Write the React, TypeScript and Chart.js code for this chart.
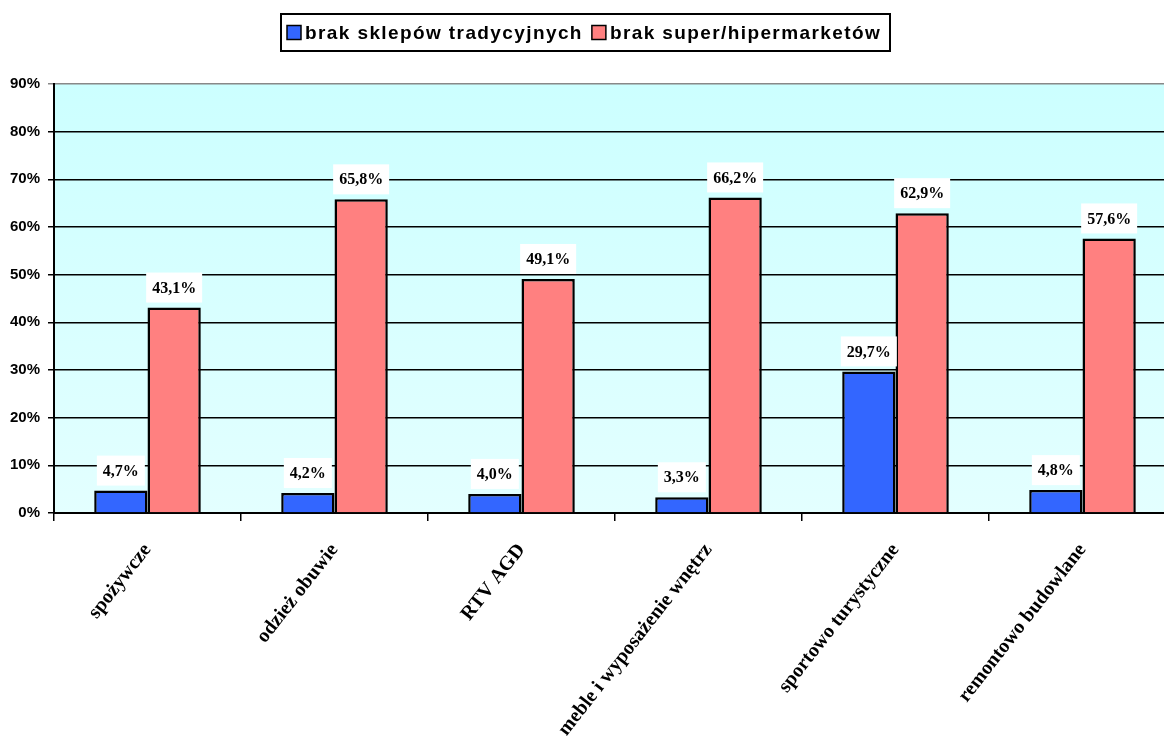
import React, { useEffect, useRef } from "react";
import { Chart, registerables } from "chart.js";

Chart.register(...registerables);

const categories = [
  "spożywcze",
  "odzież obuwie",
  "RTV AGD",
  "meble i wyposażenie wnętrz",
  "sportowo turystyczne",
  "remontowo budowlane",
];
const seriesNames = ["brak sklepów tradycyjnych", "brak super/hipermarketów"];
const traditional = [4.7, 4.2, 4.0, 3.3, 29.7, 4.8];
const hyper = [43.1, 65.8, 49.1, 66.2, 62.9, 57.6];
const yMax = 90;
const yStep = 10;

const BLUE = "#3366ff";
const RED = "#ff8080";

const fmt = (v: number) => v.toFixed(1).replace(".", ",") + "%";

const bgPlugin = {
  id: "bgGradient",
  beforeDraw(chart: any) {
    const { ctx, chartArea } = chart;
    if (!chartArea) return;
    const g = ctx.createLinearGradient(0, chartArea.top, 0, chartArea.bottom);
    g.addColorStop(0, "#ccffff");
    g.addColorStop(1, "#e3ffff");
    ctx.save();
    ctx.fillStyle = g;
    ctx.fillRect(chartArea.left, chartArea.top, chartArea.right - chartArea.left, chartArea.bottom - chartArea.top);
    ctx.restore();
  },
};

const labelPlugin = {
  id: "valueLabels",
  afterDatasetsDraw(chart: any) {
    const { ctx } = chart;
    ctx.save();
    ctx.font = "bold 16px 'Liberation Serif', 'Times New Roman', serif";
    ctx.textAlign = "center";
    ctx.textBaseline = "middle";
    chart.data.datasets.forEach((ds: any, di: number) => {
      const meta = chart.getDatasetMeta(di);
      meta.data.forEach((bar: any, i: number) => {
        const txt = fmt(ds.data[i]);
        const w = ctx.measureText(txt).width;
        const cy = bar.y - 20;
        ctx.fillStyle = "#ffffff";
        ctx.fillRect(bar.x - w / 2 - 6, cy - 15, w + 12, 30);
        ctx.fillStyle = "#000000";
        ctx.fillText(txt, bar.x, cy + 1);
      });
    });
    ctx.restore();
  },
};

const legendPlugin = {
  id: "boxLegend",
  afterDraw(chart: any) {
    const { ctx } = chart;
    ctx.save();
    ctx.font = "bold 19px 'Liberation Sans', Arial, sans-serif";
    (ctx as any).letterSpacing = "1.4px";
    ctx.textBaseline = "middle";
    const colors = [BLUE, RED];
    const sq = 14;
    const gapAfterSq = 4;
    const gapItems = 9;
    const widths = seriesNames.map((n) => ctx.measureText(n).width);
    const boxL = 281;
    const boxT = 14;
    const boxW = 609;
    const boxH = 37;
    ctx.fillStyle = "#fff";
    ctx.fillRect(boxL, boxT, boxW, boxH);
    ctx.strokeStyle = "#000";
    ctx.lineWidth = 2;
    ctx.strokeRect(boxL, boxT, boxW, boxH);
    let x = 287;
    const cy = boxT + boxH / 2;
    seriesNames.forEach((n, i) => {
      ctx.fillStyle = colors[i];
      ctx.fillRect(x, cy - sq / 2, sq, sq);
      ctx.lineWidth = 1.5;
      ctx.strokeStyle = "#000";
      ctx.strokeRect(x, cy - sq / 2, sq, sq);
      x += sq + gapAfterSq;
      ctx.fillStyle = "#000";
      ctx.fillText(n, x, cy + 1);
      x += widths[i] + gapItems;
    });
    ctx.restore();
  },
};

export default function App() {
  const ref = useRef<HTMLCanvasElement | null>(null);
  useEffect(() => {
    if (!ref.current) return;
    const chart = new Chart(ref.current, {
      type: "bar",
      data: {
        labels: categories,
        datasets: [
          {
            label: seriesNames[0],
            data: traditional,
            backgroundColor: BLUE,
            borderColor: "#000",
            borderWidth: 2.5,
            categoryPercentage: 0.57,
            barPercentage: 1,
          },
          {
            label: seriesNames[1],
            data: hyper,
            backgroundColor: RED,
            borderColor: "#000",
            borderWidth: 2.5,
            categoryPercentage: 0.57,
            barPercentage: 1,
          },
        ],
      },
      plugins: [bgPlugin, labelPlugin, legendPlugin],
      options: {
        responsive: false,
        animation: false,
        devicePixelRatio: 1,
        layout: { padding: { top: 84, right: 14, left: 0, bottom: 0 } },
        plugins: { legend: { display: false }, tooltip: { enabled: false } },
        scales: {
          x: {
            offset: true,
            grid: {
              offset: true,
              drawOnChartArea: false,
              drawTicks: true,
              tickLength: 8,
              color: "#000",
              lineWidth: 1.5,
            },
            border: { color: "#000", width: 2 },
            ticks: {
              color: "#000",
              maxRotation: 52,
              minRotation: 52,
              padding: 18,
              autoSkip: false,
              font: { family: "'Liberation Serif', 'Times New Roman', serif", size: 20, weight: "bold" },
            },
            afterFit: (s: any) => {
              s.height = 238;
            },
          },
          y: {
            min: 0,
            max: yMax,
            ticks: {
              stepSize: yStep,
              color: "#000",
              padding: 8,
              font: { family: "'Liberation Sans', Arial, sans-serif", size: 15, weight: "bold" },
              callback: (v: any) => v + "%",
            },
            grid: {
              color: (c: any) => (c.tick && c.tick.value === yMax ? "#888" : "#000"),
              lineWidth: 1.5,
              tickLength: 6,
            },
            border: { color: "#000", width: 2 },
            afterFit: (s: any) => {
              s.width = 54;
            },
          },
        },
      },
    });
    return () => chart.destroy();
  }, []);
  return (
    <div style={{ position: "fixed", left: 0, top: 0, width: 1164, height: 751, overflow: "hidden", background: "#fff" }}>
      <canvas ref={ref} width={1190} height={751} style={{ display: "block", width: 1190, height: 751 }} />
    </div>
  );
}
